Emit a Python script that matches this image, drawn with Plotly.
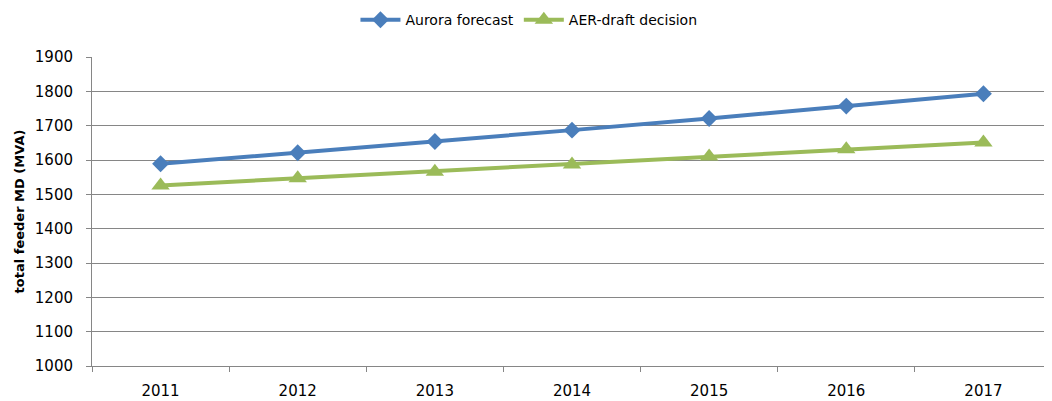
import plotly.graph_objects as go

years = ["2011", "2012", "2013", "2014", "2015", "2016", "2017"]
aurora = [1589, 1621, 1654, 1687, 1721, 1757, 1793]
aer = [1526, 1547, 1566, 1587, 1610, 1631, 1651]
y_ticks = [1000, 1100, 1200, 1300, 1400, 1500, 1600, 1700, 1800, 1900]

FONT = "DejaVu Sans"
fig = go.Figure()
fig.add_trace(go.Scatter(x=years, y=aurora, name="Aurora forecast", mode="lines+markers",
                         line=dict(color="#4A7EBB", width=4),
                         marker=dict(symbol="diamond", size=13, color="#4A7EBB")))
fig.add_trace(go.Scatter(x=years, y=aer, name="AER-draft decision", mode="lines+markers",
                         line=dict(color="#9BBB59", width=4),
                         marker=dict(symbol="triangle-up", size=16, color="#9BBB59")))

# page body has an 8px default margin, so the figure is sized/offset accordingly
fig.update_layout(
    width=1044, height=393,
    margin=dict(l=84, r=0, t=49, b=35, autoexpand=False),
    paper_bgcolor="white", plot_bgcolor="white",
    font=dict(family=FONT, size=14, color="#000000"),
    legend=dict(orientation="h", xref="container", yref="container", x=0.499, y=0.969,
                xanchor="center", yanchor="middle", font=dict(size=14), itemwidth=40,
                tracegroupgap=0),
    xaxis=dict(type="category", range=[-0.5, 6.5], showgrid=False, showline=True,
               linecolor="#868686", linewidth=1, ticks="outside", tickson="boundaries",
               ticklen=5, tickcolor="#868686", ticklabelstandoff=11, automargin=False,
               tickfont=dict(size=15)),
    yaxis=dict(range=[1000, 1900], tickvals=y_ticks, showgrid=True, gridcolor="#868686",
               gridwidth=1, showline=True, linecolor="#868686", linewidth=1,
               ticks="outside", ticklen=5, tickcolor="#868686", ticklabelstandoff=10,
               zeroline=False, tickfont=dict(size=15), automargin=False,
               title=dict(text="<b>total feeder MD (MVA)</b>", font=dict(size=13), standoff=7)),
)
fig.write_html("out.html")
